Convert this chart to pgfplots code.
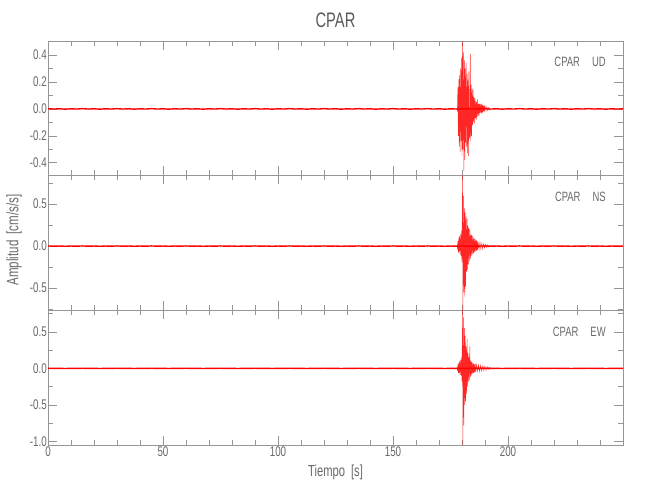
\documentclass[border=0pt]{standalone}
\usepackage{pgfplots}
\pgfplotsset{compat=1.18}
\usepackage{pgfplotstable}
\usepackage{fontspec}
\setmainfont{Liberation Sans}[FakeStretch=0.7]

\definecolor{axgray}{RGB}{150,150,150}
\definecolor{txtgray}{RGB}{105,105,105}

% background noise, shared by the three components
\pgfplotstableread{
t v
0 0.002
2.5 -0.001
5 0.001
7.5 -0.002
10 0.001
12.5 -0.001
15 0.002
17.5 -0.001
20 0.001
22.5 -0.002
25 0.001
27.5 -0.001
30 0.002
32.5 -0.001
35 0.001
37.5 -0.002
40 0.001
42.5 -0.001
45 0.002
47.5 -0.001
50 0.001
52.5 -0.002
55 0.001
57.5 -0.001
60 0.002
62.5 -0.001
65 0.001
67.5 -0.002
70 0.001
72.5 -0.001
75 0.002
77.5 -0.001
80 0.001
82.5 -0.002
85 0.001
87.5 -0.001
90 0.002
92.5 -0.001
95 0.001
97.5 -0.002
100 0.001
102.5 -0.001
105 0.002
107.5 -0.001
110 0.001
112.5 -0.002
115 0.001
117.5 -0.001
120 0.002
122.5 -0.001
125 0.001
127.5 -0.002
130 0.001
132.5 -0.001
135 0.002
137.5 -0.001
140 0.001
142.5 -0.002
145 0.001
147.5 -0.001
150 0.002
152.5 -0.001
155 0.001
157.5 -0.002
160 0.001
162.5 -0.001
165 0.002
167.5 -0.001
170 0.001
172.5 -0.002
175 0.001
177.5 -0.001
180 0.001
185 -0.001
190 0.002
192.5 -0.001
195 0.001
197.5 -0.002
200 0.001
202.5 -0.001
205 0.002
207.5 -0.001
210 0.001
212.5 -0.002
215 0.001
217.5 -0.001
220 0.002
222.5 -0.001
225 0.001
227.5 -0.002
230 0.001
232.5 -0.001
235 0.002
237.5 -0.001
240 0.001
242.5 -0.002
245 0.001
247.5 -0.001
250 0.001
}\basetab

\pgfplotstableread{
t v
177.8 0.005
178.0 -0.01
178.2 0.16
178.4 -0.20
178.6 0.22
178.8 -0.28
179.0 0.25
179.2 -0.32
179.4 0.30
179.6 -0.24
179.8 0.38
180.0 -0.35
180.2 0.50
180.4 -0.30
180.6 0.42
180.8 -0.46
181.0 0.36
181.2 -0.38
181.4 0.30
181.6 -0.25
181.8 0.34
182.0 -0.28
182.2 0.26
182.4 -0.33
182.6 0.22
182.8 -0.35
183.0 0.28
183.2 -0.22
183.4 -0.18
183.6 0.41
183.8 -0.24
184.0 0.18
184.2 -0.20
184.4 0.15
184.6 -0.12
184.8 0.14
185.0 -0.10
185.2 0.09
185.4 -0.11
185.6 0.08
185.8 -0.07
186.0 0.06
186.2 -0.08
186.4 0.05
186.6 -0.06
186.8 0.07
187.0 -0.05
187.2 0.04
187.4 -0.05
187.6 0.04
187.8 -0.03
188.0 0.035
188.2 -0.03
188.4 0.04
188.6 -0.035
188.8 0.03
189.0 -0.025
189.2 0.03
189.4 -0.02
189.6 0.025
189.8 -0.02
190.0 0.02
190.4 -0.015
190.8 0.015
191.2 -0.012
191.6 0.01
192.0 -0.01
}\udtab

\pgfplotstableread{
t v
177.8 0.01
178.0 -0.02
178.2 0.06
178.4 -0.08
178.6 0.10
178.8 -0.07
179.0 0.12
179.2 -0.10
179.4 0.14
179.6 -0.12
179.8 0.18
180.0 -0.20
180.2 0.84
180.4 -0.76
180.6 0.60
180.8 -0.55
181.0 0.45
181.2 -0.60
181.4 0.40
181.6 -0.48
181.8 0.35
182.0 -0.30
182.2 0.32
182.4 -0.28
182.6 0.25
182.8 -0.22
183.0 0.22
183.2 -0.18
183.4 0.20
183.6 -0.15
183.8 0.14
184.0 -0.12
184.2 0.13
184.4 -0.10
184.6 0.12
184.8 -0.09
185.0 0.10
185.2 -0.08
185.4 0.09
185.6 -0.07
185.8 0.08
186.0 -0.06
186.2 0.07
186.4 -0.05
186.6 0.06
186.8 -0.05
187.0 0.05
187.4 -0.04
187.8 0.045
188.2 -0.035
188.6 0.03
189.0 -0.03
189.4 0.025
189.8 -0.02
190.2 0.02
190.6 -0.015
191.0 0.015
191.5 -0.01
192.0 0.01
}\nstab

\pgfplotstableread{
t v
177.8 0.01
178.0 -0.02
178.2 0.05
178.4 -0.06
178.6 0.08
178.8 -0.07
179.0 0.10
179.2 -0.09
179.4 0.12
179.6 -0.10
179.8 0.15
180.0 -0.18
180.2 0.80
180.4 -1.05
180.6 0.70
180.8 -0.78
181.0 0.55
181.2 -0.50
181.4 0.45
181.6 -0.45
181.8 0.30
182.0 -0.35
182.2 0.40
182.4 -0.25
182.6 0.22
182.8 -0.18
183.0 0.15
183.2 -0.16
183.4 0.30
183.6 -0.12
183.8 0.10
184.0 -0.10
184.2 0.09
184.4 -0.08
184.6 0.08
184.8 -0.07
185.0 0.07
185.2 -0.06
185.4 0.06
185.6 -0.05
185.8 0.06
186.0 -0.05
186.4 0.05
186.8 -0.04
187.2 0.045
187.6 -0.04
188.0 0.04
188.4 -0.035
188.8 0.03
189.2 -0.03
189.6 0.03
190.0 -0.025
190.4 0.02
190.8 -0.02
191.2 0.02
191.6 -0.015
192.0 0.015
192.5 -0.01
193.0 0.01
}\ewtab

\pgfplotsset{
  seis/.style={
    scale only axis, width=575bp, height=134.5bp, anchor=south west,
    xmin=0, xmax=250,
    xtick={0,50,100,150,200}, minor xtick={0,10,...,240},
    axis line style={axgray, line width=0.6bp},
    every tick/.style={axgray, line width=0.6bp},
    major tick length=9bp, minor tick length=5bp,
    tick label style={font=\fontsize{14bp}{16bp}\selectfont, text=txtgray},
    /pgf/number format/assume math mode=true,
    yticklabel style={/pgf/number format/fixed, /pgf/number format/fixed zerofill,
      /pgf/number format/precision=1, inner sep=1bp},
    xticklabel style={inner sep=2bp},
    clip=true,
  },
  base/.style={red, line width=1.4bp, no markers},
  burst/.style={red, line width=0.45bp, opacity=0.85, no markers},
}

\begin{document}
\begin{tikzpicture}
\useasboundingbox (0bp,0bp) rectangle (650bp,500bp);

% UD
\begin{axis}[seis, at={(48bp,324.5bp)}, xticklabels={},
  ymin=-0.495, ymax=0.505,
  ytick={-0.4,-0.2,0,0.2,0.4}, minor ytick={-0.3,-0.1,0.1,0.3}]
\addplot[base] table {\basetab};
\addplot[burst] table {\udtab};
\node[anchor=east, text=txtgray, font=\fontsize{13.5bp}{15bp}\selectfont]
  at (rel axis cs:0.976,0.844) {CPAR\hspace{12bp}UD};
\end{axis}

% NS
\begin{axis}[seis, at={(48bp,190bp)}, xticklabels={},
  ymin=-0.76, ymax=0.84,
  ytick={-0.5,0,0.5}, minor ytick={-0.75,-0.25,0.25,0.75}]
\addplot[base] table {\basetab};
\addplot[burst] table {\nstab};
\node[anchor=east, text=txtgray, font=\fontsize{13.5bp}{15bp}\selectfont]
  at (rel axis cs:0.976,0.844) {CPAR\hspace{12bp}NS};
\end{axis}

% EW
\begin{axis}[seis, at={(48bp,55bp)}, height=135bp,
  ymin=-1.05, ymax=0.80,
  ytick={-1,-0.5,0,0.5}, minor ytick={-0.75,-0.25,0.25,0.75}]
\addplot[base] table {\basetab};
\addplot[burst] table {\ewtab};
\node[anchor=east, text=txtgray, font=\fontsize{13.5bp}{15bp}\selectfont]
  at (rel axis cs:0.976,0.84) {CPAR\hspace{12bp}EW};
\end{axis}

\node[text=txtgray!85!black, font=\fontsize{21bp}{24bp}\selectfont] at (335.5bp,480bp) {CPAR};
\node[text=txtgray, font=\fontsize{16bp}{18bp}\selectfont] at (335.5bp,28bp) {Tiempo\hspace{6bp}[s]};
\node[text=txtgray, rotate=90, font=\fontsize{16.5bp}{18bp}\selectfont] at (14bp,260bp) {Amplitud\hspace{6bp}[cm/s/s]};
\end{tikzpicture}
\end{document}
